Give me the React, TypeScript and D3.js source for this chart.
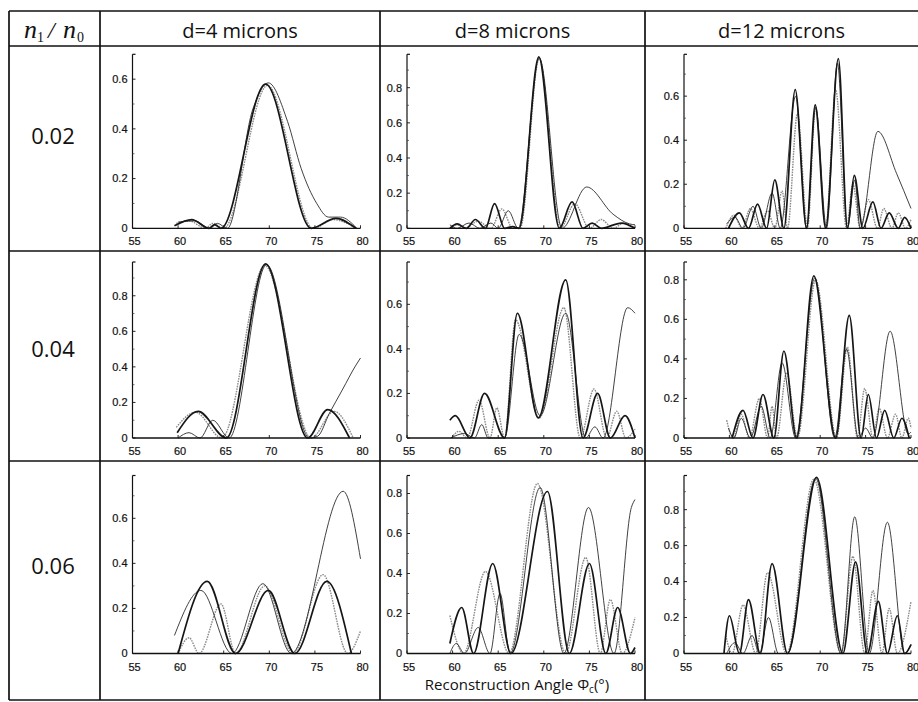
import React from 'react'
import * as d3 from 'd3'

type Pt = [number, number] // [reconstruction angle (deg), diffraction efficiency]

// ---- d = 4 microns ----
const d4_002_thick: Pt[] = [[59.6, 0.01], [61.5, 0.035], [63.4, 0], [64, 0.015], [64.7, 0], [69.6, 0.58], [74.6, 0], [77.3, 0.04], [79.5, 0]]
const d4_002_thin: Pt[] = [[60, 0.025], [61.8, 0.03], [63.5, 0], [64.3, 0.02], [65.4, 0], [68.2, 0.48], [69.9, 0.585], [72, 0.43], [73.5, 0.24], [75.2, 0.1], [76.5, 0.045], [77.8, 0.045], [79.6, 0]]
const d4_002_gray: Pt[] = [[59.8, 0.02], [61.2, 0.03], [63, 0], [63.8, 0.02], [65, 0], [69.8, 0.575], [74.8, 0], [77, 0.035], [79.5, 0]]

const d4_004_thick: Pt[] = [[59.9, 0.03], [62.2, 0.15], [65.3, 0], [69.6, 0.98], [74.2, 0], [76.4, 0.16], [78.8, 0]]
const d4_004_thin: Pt[] = [[60, 0], [61.2, 0.03], [62.4, 0], [63.8, 0.1], [65.6, 0], [69.7, 0.975], [74.4, 0], [75.3, 0.01], [76.6, 0.14], [78, 0.27], [79.5, 0.41], [80, 0.45]]
const d4_004_gray: Pt[] = [[59.8, 0.06], [61.9, 0.145], [64.8, 0], [69.5, 0.97], [74.6, 0], [77.1, 0.15], [79.2, 0]]

const d4_006_thick: Pt[] = [[60, 0], [63.2, 0.32], [66.3, 0], [69.9, 0.28], [72.8, 0], [76.3, 0.32], [79, 0]]
const d4_006_thin: Pt[] = [[59.6, 0.08], [62.5, 0.28], [65.9, 0], [69.3, 0.31], [72.4, 0], [78.1, 0.72], [80, 0.42]]
const d4_006_gray: Pt[] = [[60, 0], [61.2, 0.07], [62.3, 0], [64.7, 0.22], [66.3, 0], [69.5, 0.3], [72.6, 0], [75.9, 0.35], [78.6, 0], [80, 0.1]]

// ---- d = 8 microns ----
const d8_002_thick: Pt[] = [[59.7, 0], [60.5, 0.025], [61.5, 0], [62.5, 0.05], [63.6, 0], [64.6, 0.14], [65.7, 0], [66.6, 0.01], [67.3, 0], [69.45, 0.975], [71.7, 0], [73.1, 0.15], [74.3, 0], [75.3, 0.03], [76.3, 0], [78.5, 0.03], [80, 0]]
const d8_002_thin: Pt[] = [[59.7, 0.02], [60.5, 0], [61.8, 0.03], [63, 0], [64.2, 0.03], [65, 0], [66.1, 0.1], [67.2, 0], [69.5, 0.97], [72, 0], [74.7, 0.235], [77.6, 0.08], [79.4, 0.025], [80, 0.02]]
const d8_002_gray: Pt[] = [[59.8, 0], [60.5, 0.02], [61.3, 0], [62.8, 0.04], [64.2, 0], [65.4, 0.11], [66.6, 0], [67.4, 0], [69.5, 0.965], [71.8, 0], [73.4, 0.14], [75, 0], [76.3, 0.05], [77.6, 0], [78.8, 0.03], [80, 0]]

const d8_004_thick: Pt[] = [[59.7, 0.08], [60.3, 0.1], [61.9, 0], [63.5, 0.2], [65.7, 0], [67.1, 0.56], [69.4, 0.09], [72.4, 0.71], [74.3, 0], [75.9, 0.2], [77.3, 0], [78.9, 0.1], [80, 0]]
const d8_004_thin: Pt[] = [[59.8, 0], [61.3, 0.02], [62.4, 0], [63.2, 0.06], [63.9, 0], [65.7, 0], [67.3, 0.465], [69.6, 0.1], [72.4, 0.56], [74.6, 0], [75.6, 0.05], [76.5, 0], [79.2, 0.585], [80, 0.56]]
const d8_004_gray: Pt[] = [[59.9, 0], [60.7, 0.03], [61.6, 0], [62.9, 0.17], [64.1, 0], [64.85, 0.135], [65.7, 0], [66.9, 0.53], [69.5, 0.09], [72.2, 0.585], [74, 0], [75.5, 0.22], [76.9, 0], [78, 0.12], [79, 0], [80, 0.04]]

const d8_006_thick: Pt[] = [[59.7, 0.05], [61, 0.23], [62.3, 0], [64.4, 0.45], [66.4, 0], [70.4, 0.81], [72.8, 0], [75, 0.45], [76.8, 0], [78.1, 0.23], [79.5, 0], [80, 0.03]]
const d8_006_thin: Pt[] = [[59.7, 0], [60.4, 0.05], [61.3, 0], [62.8, 0.13], [64.1, 0], [65.2, 0.3], [66.3, 0], [69.6, 0.83], [72.2, 0], [74.9, 0.73], [77.7, 0], [79.6, 0.73], [80, 0.77]]
const d8_006_gray: Pt[] = [[59.7, 0.19], [61.2, 0], [63.6, 0.41], [66.2, 0], [69.3, 0.85], [72.4, 0], [74.6, 0.48], [76.2, 0], [77.3, 0.27], [78.6, 0], [80, 0.18]]

// ---- d = 12 microns ----
const d12_002_thick: Pt[] = [[59.9, 0], [61.1, 0.07], [62.1, 0], [63.1, 0.11], [64.1, 0], [65, 0.22], [66, 0], [67.25, 0.63], [68.5, 0], [69.45, 0.56], [70.6, 0], [72, 0.77], [73, 0], [73.75, 0.24], [74.7, 0], [75.8, 0.12], [76.7, 0], [77.6, 0.07], [78.6, 0], [79.3, 0.05], [80, 0]]
const d12_002_thin: Pt[] = [[59.7, 0.02], [60.6, 0.05], [61.5, 0], [62.6, 0.1], [63.5, 0], [64.7, 0.16], [65.6, 0], [67.3, 0.6], [68.5, 0], [69.5, 0.55], [70.7, 0], [71.9, 0.75], [73, 0], [73.8, 0.22], [74.4, 0], [76.35, 0.44], [78.4, 0.25], [80, 0.09]]
const d12_002_gray: Pt[] = [[59.6, 0], [60.5, 0.06], [61.4, 0], [62.3, 0.09], [63.3, 0], [64.2, 0.08], [65, 0], [65.8, 0.17], [66.4, 0], [67.5, 0.52], [68.6, 0], [69.5, 0.55], [70.6, 0], [71.7, 0.63], [72.9, 0], [73.6, 0.2], [74.4, 0], [75.3, 0.13], [76.3, 0], [77, 0.09], [77.9, 0], [78.6, 0.07], [79.4, 0], [80, 0.04]]

const d12_004_thick: Pt[] = [[60.3, 0], [61.5, 0.14], [62.6, 0], [63.7, 0.22], [64.9, 0], [66, 0.44], [67.4, 0], [69.3, 0.82], [71.7, 0], [73.2, 0.62], [74.5, 0], [75.3, 0.22], [76.2, 0], [77.1, 0.14], [78.1, 0], [79, 0.1], [79.8, 0]]
const d12_004_thin: Pt[] = [[59.9, 0.05], [60.5, 0], [61.3, 0.1], [62.3, 0], [63.5, 0.16], [64.5, 0], [65.8, 0.38], [67.3, 0], [69.4, 0.81], [71.6, 0], [72.9, 0.45], [74.2, 0], [75, 0.05], [75.8, 0], [77.7, 0.54], [79.7, 0.02], [80, 0.03]]
const d12_004_gray: Pt[] = [[59.7, 0.09], [60.4, 0], [61.3, 0.12], [62.2, 0], [63.3, 0.2], [64.2, 0], [64.7, 0.16], [65.2, 0], [66.3, 0.33], [67.5, 0], [69.5, 0.8], [71.8, 0], [73, 0.46], [74.1, 0], [74.9, 0.25], [75.8, 0], [76.5, 0.15], [77.4, 0], [78.3, 0.12], [79, 0], [79.7, 0.1], [80, 0.05]]

const d12_006_thick: Pt[] = [[59.4, 0], [60, 0.21], [61.1, 0], [62.1, 0.3], [63.4, 0], [64.7, 0.5], [66.4, 0], [69.6, 0.98], [72.5, 0], [73.9, 0.51], [75.2, 0], [76.4, 0.29], [77.4, 0], [78.5, 0.21], [79.3, 0], [80, 0.05]]
const d12_006_thin: Pt[] = [[59.7, 0], [60.6, 0.06], [61.5, 0], [62.5, 0.1], [63.3, 0], [64.3, 0.2], [65.4, 0], [66.4, 0], [69.5, 0.975], [72.3, 0], [73.8, 0.76], [75.4, 0], [77.4, 0.73], [79.3, 0], [80, 0.05]]
const d12_006_gray: Pt[] = [[59.6, 0.1], [60.3, 0], [61.5, 0.27], [62.9, 0], [64.2, 0.45], [66.3, 0], [69.3, 0.97], [72.3, 0], [73.6, 0.54], [74.9, 0], [75.8, 0.35], [76.8, 0], [77.6, 0.25], [78.5, 0], [80, 0.29]]

const depthLabels = ['d=4 microns', 'd=8 microns', 'd=12 microns']
const ratioLabels = ['0.02', '0.04', '0.06']
const xTicks = [55, 60, 65, 70, 75, 80]
// top of each y axis, [row][col]
const yTops = [
  [0.7, 0.99, 0.79],
  [0.99, 0.79, 0.89],
  [0.79, 0.89, 0.99],
]
const curves: Pt[][][][] = [
  [
    [d4_002_gray, d4_002_thin, d4_002_thick],
    [d8_002_gray, d8_002_thin, d8_002_thick],
    [d12_002_gray, d12_002_thin, d12_002_thick],
  ],
  [
    [d4_004_gray, d4_004_thin, d4_004_thick],
    [d8_004_gray, d8_004_thin, d8_004_thick],
    [d12_004_gray, d12_004_thin, d12_004_thick],
  ],
  [
    [d4_006_gray, d4_006_thin, d4_006_thick],
    [d8_006_gray, d8_006_thin, d8_006_thick],
    [d12_006_gray, d12_006_thin, d12_006_thick],
  ],
]

// layout (pixels)
const W = 918
const H = 702
const colLeft = [132.5, 407, 684]
const plotW = [228, 228, 227]
const rowBase = [228.3, 438, 653.5]
const plotH = [174, 176, 178]
const gridX = [9, 100, 380, 645]
const gridY = [11, 46, 251, 461, 700]

const seriesStyle = [
  { stroke: '#8a8a8a', width: 1.4, dash: '1.6 1' },
  { stroke: '#2b2b2b', width: 0.9, dash: undefined },
  { stroke: '#161616', width: 1.7, dash: undefined },
]

const tickFont = '"Liberation Sans", Arial, sans-serif'
const textFont = '"Open Sans", "Noto Sans", sans-serif'

function Panel({ row, col }: { row: number; col: number }) {
  const left = colLeft[col]
  const base = rowBase[row]
  const top = yTops[row][col]
  const x = d3.scaleLinear().domain([55, 80]).range([left, left + plotW[col]])
  const y = d3.scaleLinear().domain([0, top]).range([base, base - plotH[row]])
  const line = d3
    .line<Pt>()
    .x((d) => x(d[0]))
    .y((d) => y(d[1]))
    .curve(d3.curveMonotoneX)

  const major = d3.range(0, top + 1e-9, 0.2)
  const minor = d3.range(0.1, top, 0.2)

  return (
    <g>
      {/* curves */}
      {curves[row][col].map((pts, i) => (
        <path
          key={i}
          d={line(pts) || ''}
          fill="none"
          stroke={seriesStyle[i].stroke}
          strokeWidth={seriesStyle[i].width}
          strokeDasharray={seriesStyle[i].dash}
          strokeLinejoin="round"
        />
      ))}
      {/* y axis */}
      <line x1={x(55)} x2={x(55)} y1={y(0)} y2={y(top)} stroke="#111" strokeWidth={1.2} />
      <line x1={x(55)} x2={x(55) + 3} y1={y(top)} y2={y(top)} stroke="#111" strokeWidth={1.2} />
      {major.map((t) => (
        <g key={'ma' + t}>
          <line x1={x(55)} x2={x(55) + 3} y1={y(t)} y2={y(t)} stroke="#111" strokeWidth={0.9} />
          <text
            x={x(55) - 5}
            y={y(t)}
            dy="0.35em"
            textAnchor="end"
            fontFamily={tickFont}
            fontSize={11}
            fill="#111"
            stroke="#111"
            strokeWidth={0.2}
          >
            {t === 0 ? '0' : t.toFixed(1)}
          </text>
        </g>
      ))}
      {minor.map((t) => (
        <line key={'mi' + t} x1={x(55)} x2={x(55) + 2} y1={y(t)} y2={y(t)} stroke="#333" strokeWidth={0.7} />
      ))}
      {/* x axis */}
      <line x1={x(55)} x2={x(80)} y1={y(0)} y2={y(0)} stroke="#111" strokeWidth={1.3} />
      {xTicks.map((t) => (
        <g key={'x' + t}>
          <line x1={x(t)} x2={x(t)} y1={y(0)} y2={y(0) - 3} stroke="#111" strokeWidth={0.9} />
          <text
            x={x(t) + 2}
            y={y(0) + 17}
            textAnchor="middle"
            fontFamily={tickFont}
            fontSize={11}
            fill="#111"
            stroke="#111"
            strokeWidth={0.2}
          >
            {t}
          </text>
        </g>
      ))}
    </g>
  )
}

export default function App() {
  const headerCenters = d3.range(1, 4).map((i) => (gridX[i] + (gridX[i + 1] ?? W)) / 2)
  const rowLabelY = [144, 357, 573.5]

  return (
    <svg
      width={W}
      height={H}
      viewBox={`0 0 ${W} ${H}`}
      style={{ position: 'absolute', left: 0, top: 0, background: '#fff' }}
    >
      <rect width={W} height={H} fill="#fff" />

      {/* table grid */}
      {gridY.map((gy) => (
        <line key={'gy' + gy} x1={gridX[0]} x2={W} y1={gy} y2={gy} stroke="#111" strokeWidth={1.7} />
      ))}
      {gridX.map((gx) => (
        <line key={'gx' + gx} x1={gx} x2={gx} y1={gridY[0]} y2={gridY[gridY.length - 1]} stroke="#111" strokeWidth={1.7} />
      ))}

      {/* corner: n1 / n0 */}
      <g fontFamily='"Liberation Serif", "DejaVu Serif", serif' fill="#111">
        <text x={24} y={37.5} fontSize={26} fontStyle="italic">n</text>
        <text x={37} y={42} fontSize={14}>1</text>
        <text x={48} y={37.5} fontSize={24} fontStyle="italic">/</text>
        <text x={63} y={37.5} fontSize={26} fontStyle="italic">n</text>
        <text x={77} y={42} fontSize={14}>0</text>
      </g>

      {depthLabels.map((lbl, i) => (
        <text
          key={lbl}
          x={headerCenters[i]}
          y={38}
          textAnchor="middle"
          fontFamily={textFont}
          fontSize={20}
          fill="#111"
        >
          {lbl}
        </text>
      ))}

      {ratioLabels.map((lbl, i) => (
        <text
          key={lbl}
          x={53}
          y={rowLabelY[i]}
          textAnchor="middle"
          fontFamily={textFont}
          fontSize={22}
          fill="#111"
        >
          {lbl}
        </text>
      ))}

      {[0, 1, 2].map((r) => [0, 1, 2].map((c) => <Panel key={r + '-' + c} row={r} col={c} />))}

      <text x={517} y={690} textAnchor="middle" fontFamily={textFont} fontSize={15} fill="#111">
        Reconstruction Angle{'  '}
        <tspan>Φ</tspan>
        <tspan fontSize={10} dy={3}>c</tspan>
        <tspan dy={-3}>(°)</tspan>
      </text>
    </svg>
  )
}
